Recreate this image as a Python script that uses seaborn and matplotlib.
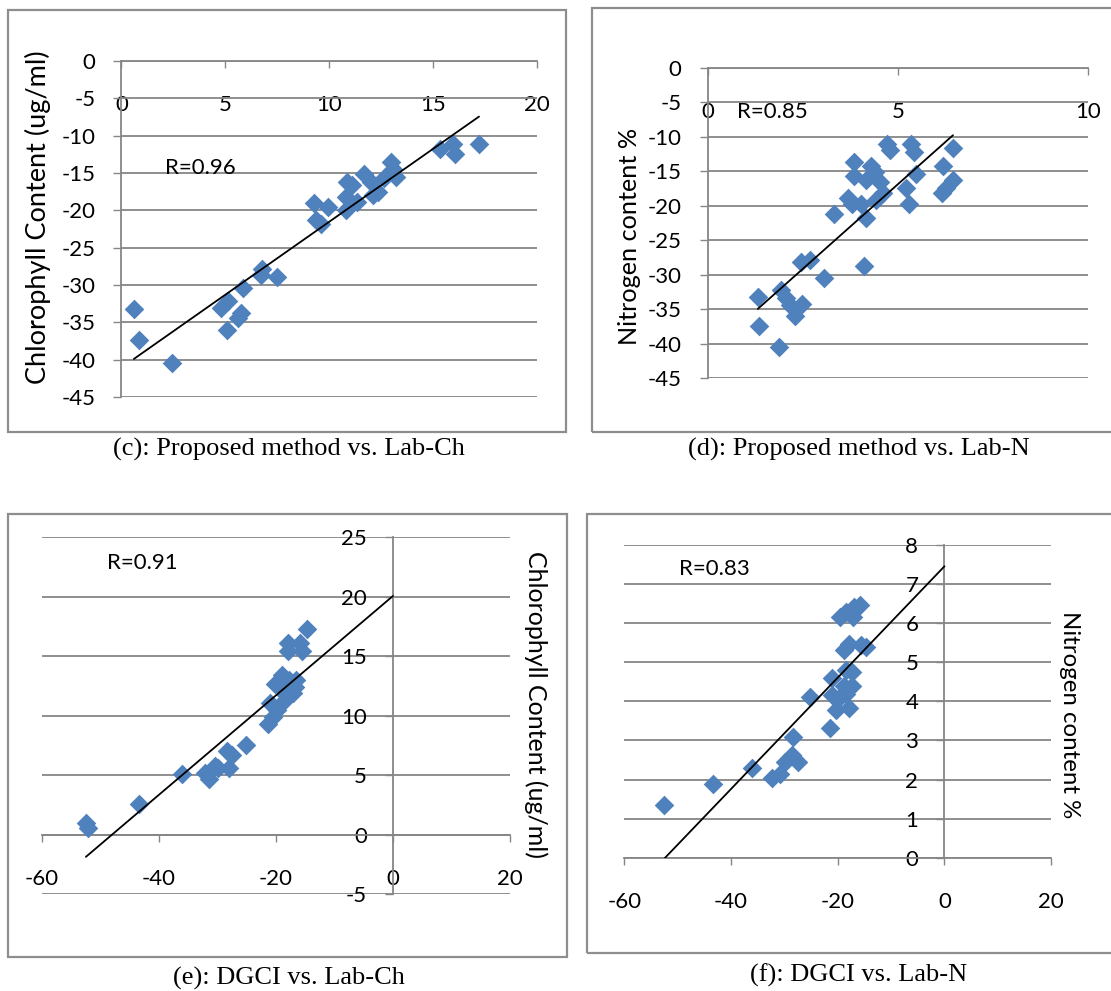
import numpy as np
import matplotlib
matplotlib.use("Agg")
import matplotlib.pyplot as plt
from matplotlib.patches import Rectangle
import seaborn as sns

# (c) Proposed method vs. Lab-Ch
c_x = [0.60, 0.83, 2.46, 4.82, 5.16, 5.09, 5.64, 5.76, 5.85, 6.79, 6.71, 7.48,
       9.29, 9.37, 9.63, 9.94, 10.80, 10.87, 11.10, 10.83, 11.35, 11.69, 12.04,
       12.12, 12.38, 12.64, 12.98, 13.07, 13.24, 15.36, 15.99, 16.08, 17.23]
c_y = [-33.2, -37.4, -40.5, -33.1, -32.2, -36.0, -34.4, -33.8, -30.4, -27.8,
       -28.7, -28.9, -19.0, -21.3, -21.8, -19.5, -20.0, -16.2, -16.6, -18.2,
       -18.9, -15.1, -16.2, -18.0, -17.5, -15.7, -13.5, -14.4, -15.5, -11.8,
       -11.1, -12.5, -11.1]

# (d) Proposed method vs. Lab-N
d_x = [1.32, 1.36, 1.87, 1.94, 2.05, 2.17, 2.29, 2.49, 2.45, 2.68, 3.07, 3.31,
       3.69, 3.79, 3.86, 3.86, 4.02, 4.16, 4.11, 4.16, 4.29, 4.41, 4.52, 4.43,
       4.62, 4.71, 4.80, 5.22, 5.29, 5.36, 5.43, 5.49, 6.19, 6.17, 6.28, 6.45,
       6.45]
d_y = [-33.2, -37.4, -40.4, -32.2, -33.4, -34.4, -36.0, -34.2, -28.1, -27.8,
       -30.4, -21.2, -18.9, -19.7, -13.6, -15.7, -19.7, -21.8, -28.8, -16.2,
       -14.3, -15.1, -16.5, -19.1, -18.2, -11.0, -11.9, -17.5, -19.7, -11.0,
       -12.2, -15.4, -14.3, -18.1, -17.5, -16.3, -11.7]

# (e) DGCI vs. Lab-Ch
e_x = [-52.5, -52.1, -43.4, -36.0, -32.1, -31.5, -30.5, -29.9, -28.4, -28.1,
       -27.5, -25.2, -21.4, -20.5, -21.1, -19.8, -20.2, -18.9, -18.6, -18.3,
       -17.7, -17.1, -16.8, -16.5, -18.0, -18.0, -15.9, -15.6, -14.7, -19.5]
e_y = [0.93, 0.59, 2.6, 5.1, 5.2, 4.7, 5.8, 5.6, 7.0, 5.6, 6.7, 7.5, 9.3, 9.9,
       11.1, 10.5, 12.7, 13.4, 11.2, 11.7, 13.0, 11.9, 12.4, 13.0, 15.4, 16.1,
       16.1, 15.4, 17.3, 12.6]

# (f) DGCI vs. Lab-N
f_x = [-52.5, -43.4, -36.0, -32.3, -30.9, -29.9, -28.6, -28.3, -27.4, -25.2,
       -21.4, -21.0, -21.0, -20.4, -19.7, -18.9, -18.4, -17.8, -17.4, -19.6,
       -18.8, -17.8, -18.4, -16.9, -15.8, -15.6, -14.7, -17.1, -18.4, -17.4]
f_y = [1.35, 1.88, 2.29, 2.03, 2.14, 2.46, 2.63, 3.08, 2.46, 4.10, 3.31, 4.59,
       4.16, 3.78, 4.08, 4.38, 4.80, 3.82, 4.38, 6.17, 5.31, 5.48, 6.29, 6.42,
       6.46, 5.44, 5.40, 6.17, 4.20, 4.76]

r_labels = ["R=0.96", "R=0.85", "R=0.91", "R=0.83"]
captions = ["(c): Proposed method vs. Lab-Ch", "(d): Proposed method vs. Lab-N",
            "(e): DGCI vs. Lab-Ch", "(f): DGCI vs. Lab-N"]
ylabels = ["Chlorophyll Content (ug/ml)", "Nitrogen content %",
           "Chlorophyll Content (ug/ml)", "Nitrogen content %"]
# trendlines of the DGCI panels are forecast forward to DGCI = 0
trend_end = [None, None, 0, 0]

sns.set_theme(style="white")
plt.rcParams["font.family"] = ["Lato", "DejaVu Sans"]
plt.rcParams["axes.unicode_minus"] = False

W, H = 1111, 991
fig = plt.figure(figsize=(W / 100, H / 100), dpi=100)
fig.patch.set_facecolor("white")

GRID = "#868686"
FRAME = "#8e8e8e"
BLUE = "#4F81BD"


def px_box(x0, y0, x1, y1):
    return [x0 / W, 1 - y1 / H, (x1 - x0) / W, (y1 - y0) / H]


def frame(x0, y0, x1, y1):
    fig.add_artist(Rectangle((x0 / W, 1 - y1 / H), (x1 - x0) / W, (y1 - y0) / H,
                             transform=fig.transFigure, fill=False,
                             edgecolor=FRAME, lw=1.6))


def panel(box, x, y, xlim, ylim, xticks, yticks, ylabel, ylab_size, lab_xy,
          lab_rot, r_text, r_xy, x_end):
    x = np.asarray(x, dtype=float)
    y = np.asarray(y, dtype=float)
    ax = fig.add_axes(px_box(*box))
    ax.set_facecolor("none")
    sns.regplot(x=x, y=y, ax=ax, fit_reg=False, marker="D", color=BLUE,
                scatter_kws=dict(s=100, alpha=1, linewidths=0, zorder=3))
    # least-squares trendline
    slope, intercept = np.polyfit(x, y, 1)
    xs = np.array([x.min(), x.max() if x_end is None else x_end])
    sns.lineplot(x=xs, y=slope * xs + intercept, ax=ax, color="black", lw=1.3,
                 zorder=4)
    ax.set_xlim(xlim)
    ax.set_ylim(ylim)
    ax.set_xticks(xticks)
    ax.set_yticks(yticks)
    ax.set_xticklabels([str(v) for v in xticks])
    ax.set_yticklabels([str(v) for v in yticks])
    ax.grid(False)
    ax.grid(axis="y", color=GRID, lw=1.3)
    ax.set_axisbelow(True)
    for s in ["top", "right"]:
        ax.spines[s].set_visible(False)
    ax.spines["bottom"].set_position(("data", 0))
    ax.spines["left"].set_position(("data", 0))
    for s in ["bottom", "left"]:
        ax.spines[s].set_color(GRID)
        ax.spines[s].set_linewidth(1.3)
    ax.tick_params(axis="x", direction="out", length=5.2, width=1.0, color=GRID,
                   pad=19.5, labelsize=16, bottom=True, labelcolor="black")
    ax.tick_params(axis="y", direction="out", length=5.8, width=1.0, color=GRID,
                   pad=13, labelsize=16, left=True, labelcolor="black")
    ax.set_xlabel("")
    ax.set_ylabel(ylabel, fontsize=ylab_size, rotation=lab_rot, color="black")
    ax.yaxis.set_label_coords(*lab_xy)
    ax.yaxis.label.set_va("center")
    ax.yaxis.label.set_ha("center")
    ax.text(r_xy[0], r_xy[1], r_text, transform=ax.transAxes, fontsize=16,
            ha="left", va="center", color="black")
    return ax


frame(8, 10, 566, 432)
frame(592, 8, 1114, 432)
frame(8, 514, 567, 957)
frame(587, 514, 1114, 953)

panel((121.4, 61, 536.5, 397), c_x, c_y, (0, 20), (-45, 0),
      [0, 5, 10, 15, 20], list(range(0, -50, -5)), ylabels[0], 19.5,
      (-0.202, 0.536), 90, r_labels[0], (0.105, 0.682), trend_end[0])
panel((707.6, 67.7, 1088, 378.3), d_x, d_y, (0, 10), (-45, 0),
      [0, 5, 10], list(range(0, -50, -5)), ylabels[1], 18.2,
      (-0.204, 0.458), 90, r_labels[1], (0.077, 0.857), trend_end[1])
panel((42, 537.3, 510, 894), e_x, e_y, (-60, 20), (-5, 25),
      [-60, -40, -20, 0, 20], list(range(-5, 30, 5)), ylabels[2], 18,
      (1.056, 0.53), 270, r_labels[2], (0.139, 0.928), trend_end[2])
panel((624.3, 545, 1051.2, 857.7), f_x, f_y, (-60, 20), (0, 8),
      [-60, -40, -20, 0, 20], list(range(0, 9)), ylabels[3], 17.3,
      (1.043, 0.456), 270, r_labels[3], (0.129, 0.923), trend_end[3])

for (cx, cy), text in zip([(289, 449), (859, 449), (289, 978), (859, 975)], captions):
    fig.text(cx / W, 1 - cy / H, text, ha="center", va="center",
             family=["Liberation Serif", "DejaVu Serif"], fontsize=19, color="black")

fig.savefig("out.png", dpi=100, facecolor="white")
